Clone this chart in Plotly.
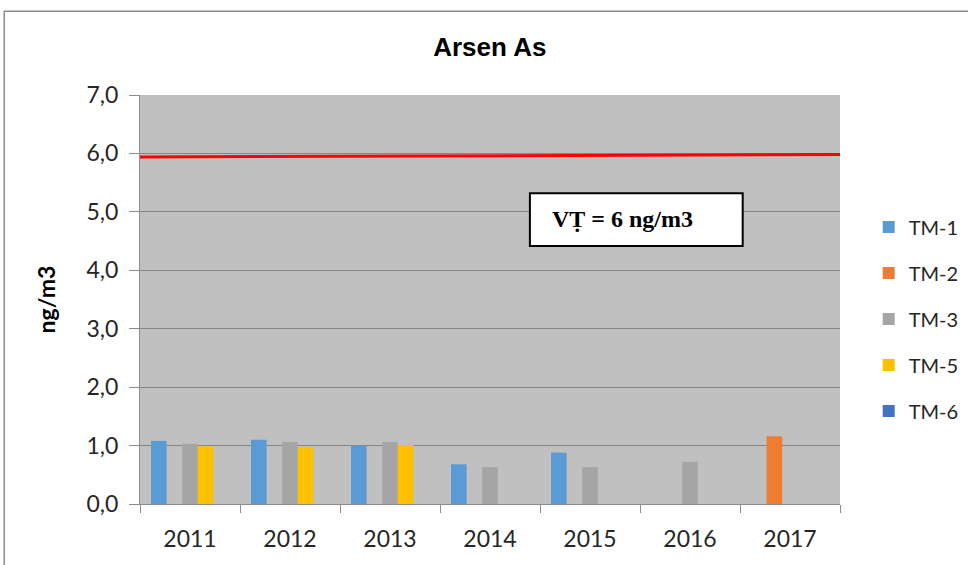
import plotly.graph_objects as go

years = ["2011", "2012", "2013", "2014", "2015", "2016", "2017"]
series_names = ["TM-1", "TM-2", "TM-3", "TM-5", "TM-6"]
tm1 = [1.08, 1.10, 1.00, 0.68, 0.88, None, None]
tm2 = [None, None, None, None, None, None, 1.16]
tm3 = [1.03, 1.06, 1.06, 0.63, 0.63, 0.72, None]
tm5 = [0.99, 0.97, 1.01, None, None, None, None]
tm6 = [None, None, None, None, None, None, None]
limit_line = [5.94, 5.98]  # drawn red line, start and end
limit_label = "VṬ = 6 ng/m3"
y_ticks = [0, 1, 2, 3, 4, 5, 6, 7]

colors = ["#5B9BD5", "#ED7D31", "#A5A5A5", "#FFC000", "#4472C4"]
values = [tm1, tm2, tm3, tm5, tm6]

TXT = "Lato"

fig = go.Figure()
for i, (name, vals) in enumerate(zip(series_names, values)):
    fig.add_trace(go.Bar(x=years, y=vals, name=name, marker_color=colors[i],
                         marker_line_width=0, legendgroup=name))

# Red limit line across the plot
fig.add_shape(type="line", xref="paper", yref="y", x0=0, x1=1,
              y0=limit_line[0], y1=limit_line[1],
              line=dict(color="#FF0000", width=3), layer="above")

# Outer chart border
fig.add_shape(type="rect", xref="paper", yref="paper", x0=-0.194, x1=1.5,
              y0=-0.5, y1=1.205, line=dict(color="#8C8C8C", width=1.5),
              fillcolor="rgba(0,0,0,0)", layer="below")

# Annotation box
fig.add_shape(type="rect", xref="paper", yref="paper", x0=0.557, x1=0.861,
              y0=0.631, y1=0.760, line=dict(color="#000000", width=2),
              fillcolor="#FFFFFF", layer="above")
fig.add_annotation(xref="paper", yref="paper", x=0.585, y=0.696,
                   xanchor="left", yanchor="middle", showarrow=False,
                   text="<b>" + limit_label + "</b>",
                   font=dict(family="Liberation Serif", size=24, color="#000000"))

fig.update_layout(
    width=968, height=565,
    margin=dict(l=140, r=128, t=95, b=61, autoexpand=False),
    paper_bgcolor="#FFFFFF",
    plot_bgcolor="#C0C0C0",
    barmode="group", bargap=0.22, bargroupgap=0,
    separators=",.",
    title=dict(text="<b>Arsen As</b>", x=0.506, xanchor="center",
               y=1 - 47 / 565, yanchor="middle", yref="container",
               font=dict(family="Liberation Sans", size=26, color="#000000")),
    font=dict(family=TXT, color="#262626"),
    legend=dict(x=1.041, xanchor="left", y=0.725, yanchor="top",
                font=dict(family=TXT, size=20, color="#262626"),
                tracegroupgap=17, itemwidth=30, bgcolor="rgba(0,0,0,0)"),
    showlegend=True,
)
fig.update_xaxes(type="category", tickson="boundaries", ticks="outside",
                 ticklen=8, tickcolor="#8C8C8C", showline=True,
                 linecolor="#8C8C8C", linewidth=1, ticklabelstandoff=14,
                 tickfont=dict(family=TXT, size=23, color="#262626"),
                 showgrid=False)
fig.update_yaxes(range=[0, 7], tickvals=y_ticks, tickformat=".1f",
                 ticks="outside", ticklen=10, tickcolor="#8C8C8C",
                 showline=True, linecolor="#8C8C8C", linewidth=1,
                 ticklabelstandoff=6,
                 showgrid=True, gridcolor="#868686", gridwidth=1,
                 zeroline=False,
                 tickfont=dict(family=TXT, size=23, color="#262626"),
                 title=dict(text="<b>ng/m3</b>", standoff=24,
                            font=dict(family=TXT, size=23, color="#000000")))

fig.write_html("out.html", config={"displayModeBar": False},
               post_script="document.body.style.margin='0';document.body.style.overflow='hidden';")
